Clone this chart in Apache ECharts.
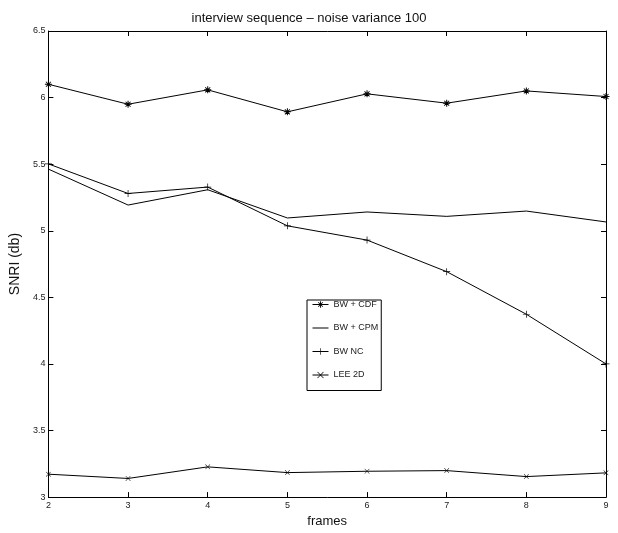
<!DOCTYPE html>
<html>
<head>
<meta charset="utf-8">
<script src="https://cdn.jsdelivr.net/npm/echarts@6/dist/echarts.min.js"></script>
<style>
html,body{margin:0;padding:0;background:#fff;}
#chart{width:618px;height:533px;}
</style>
</head>
<body>
<div id="chart"></div>
<script>
var frames = [2, 3, 4, 5, 6, 7, 8, 9];
var bwCdf = [6.10, 5.95, 6.058, 5.893, 6.028, 5.958, 6.05, 6.008];
var bwCpm = [5.463, 5.193, 5.308, 5.096, 5.141, 5.108, 5.148, 5.066];
var bwNc  = [5.502, 5.28, 5.328, 5.037, 4.93, 4.693, 4.373, 4.0];
var lee2d = [3.172, 3.14, 3.227, 3.184, 3.194, 3.199, 3.154, 3.182];
var seriesNames = ['BW + CDF', 'BW + CPM', 'BW NC', 'LEE 2D'];
var titleText = 'interview sequence \u2013 noise variance 100';
var xName = 'frames';
var yName = 'SNRI (db)';

var FONT = '"Liberation Sans", Arial, Helvetica, sans-serif';
var plus = 'path://M-0.5,-5 L0.5,-5 L0.5,-0.5 L5,-0.5 L5,0.5 L0.5,0.5 L0.5,5 L-0.5,5 L-0.5,0.5 L-5,0.5 L-5,-0.5 L-0.5,-0.5 Z';
var cross = 'path://M-5,-4.3 L-4.3,-5 L0,-0.7 L4.3,-5 L5,-4.3 L0.7,0 L5,4.3 L4.3,5 L0,0.7 L-4.3,5 L-5,4.3 L-0.7,0 Z';
var star = 'path://M-0.7,-5 L0.7,-5 L0.7,-0.7 L5,-0.7 L5,0.7 L0.7,0.7 L0.7,5 L-0.7,5 L-0.7,0.7 L-5,0.7 L-5,-0.7 L-0.7,-0.7 Z M-4,-3.1 L-3.1,-4 L0,-0.9 L3.1,-4 L4,-3.1 L0.9,0 L4,3.1 L3.1,4 L0,0.9 L-3.1,4 L-4,3.1 L-0.9,0 Z';
var plainLine = 'path://M0,0 L16,0 L16,1 L0,1 Z';

function pairs(vals){ return frames.map(function(f,i){ return [f, vals[i]]; }); }

function mk(name, vals, sym, size){
  return {
    name: name, type: 'line', data: pairs(vals),
    symbol: sym, symbolSize: size, showSymbol: sym !== 'none',
    lineStyle: {color: '#000', width: 1},
    itemStyle: {color: '#000', borderWidth: 0},
    emphasis: {disabled: true},
    animation: false, z: 3
  };
}

var chart = echarts.init(document.getElementById('chart'), null, {renderer: 'canvas'});
var axisLabelStyle = {fontFamily: FONT, fontSize: 9, color: '#222'};
chart.setOption({
  backgroundColor: '#fff',
  animation: false,
  title: {
    text: titleText, left: 'center', top: 7,
    textStyle: {fontFamily: FONT, fontSize: 13, fontWeight: 'normal', color: '#111'}
  },
  grid: {left: 46, right: 12, top: 31, bottom: 33},
  legend: {
    data: [
      {name: seriesNames[0]},
      {name: seriesNames[1], icon: plainLine},
      {name: seriesNames[2]},
      {name: seriesNames[3]}
    ],
    orient: 'vertical', left: 307, top: 300,
    itemWidth: 16, itemHeight: 8, itemGap: 14.5,
    padding: [0, 3, 11, 5],
    borderColor: '#000', borderWidth: 1,
    backgroundColor: '#fff',
    lineStyle: {width: 1, color: '#000'},
    textStyle: {fontFamily: FONT, fontSize: 9, color: '#222'},
    selectedMode: false
  },
  xAxis: [{
    type: 'value', min: 2, max: 9, interval: 1,
    name: xName, nameLocation: 'middle', nameGap: 14,
    nameTextStyle: {fontFamily: FONT, fontSize: 13, color: '#111'},
    axisLine: {lineStyle: {color: '#000', width: 1}},
    axisTick: {inside: true, length: 5, lineStyle: {color: '#000'}},
    axisLabel: Object.assign({margin: 4}, axisLabelStyle),
    splitLine: {show: false}
  }, {
    type: 'value', min: 2, max: 9, interval: 1, position: 'top',
    axisLine: {show: true, lineStyle: {color: '#000', width: 1}},
    axisTick: {inside: true, length: 5, lineStyle: {color: '#000'}},
    axisLabel: {show: false}, splitLine: {show: false}
  }],
  yAxis: [{
    type: 'value', min: 3, max: 6.5, interval: 0.5,
    name: yName, nameLocation: 'middle', nameGap: 17,
    nameTextStyle: {fontFamily: FONT, fontSize: 14, color: '#111'},
    axisLine: {show: true, lineStyle: {color: '#000', width: 1}},
    axisTick: {show: true, inside: true, length: 5, lineStyle: {color: '#000'}},
    axisLabel: Object.assign({margin: 3}, axisLabelStyle),
    splitLine: {show: false}
  }, {
    type: 'value', min: 3, max: 6.5, interval: 0.5, position: 'right',
    axisLine: {show: true, lineStyle: {color: '#000', width: 1}},
    axisTick: {show: true, inside: true, length: 5, lineStyle: {color: '#000'}},
    axisLabel: {show: false}, splitLine: {show: false}
  }],
  series: [
    mk(seriesNames[0], bwCdf, star, 7),
    mk(seriesNames[1], bwCpm, 'none', 0),
    mk(seriesNames[2], bwNc, plus, 7),
    mk(seriesNames[3], lee2d, cross, 5)
  ]
});
</script>
</body>
</html>
